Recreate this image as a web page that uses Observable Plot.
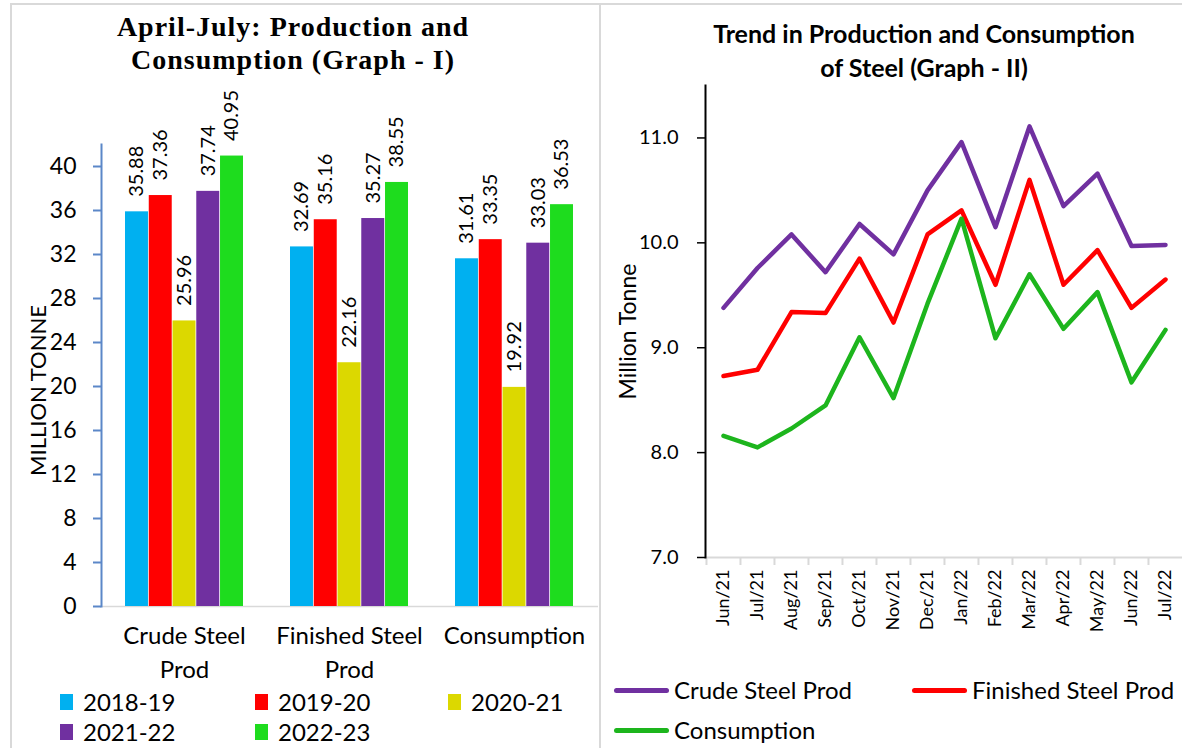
<!DOCTYPE html>
<html>
<head>
<meta charset="utf-8">
<script src="https://cdn.jsdelivr.net/npm/d3@7"></script>
<script src="https://cdn.jsdelivr.net/npm/@observablehq/plot@0.6"></script>
<style>
  html, body { margin: 0; padding: 0; background: #fff; }
  #root { position: relative; width: 1182px; height: 748px; overflow: hidden; background: #fff; font-family: Lato, "Open Sans", sans-serif; color: #000; }
  .abs { position: absolute; }
  .title1 { font-family: "Liberation Serif", serif; font-weight: bold; font-size: 28px; letter-spacing: 1px; line-height: 33px; text-align: center; }
  .title2 { font-family: Lato, sans-serif; font-weight: bold; font-size: 25px; line-height: 34px; text-align: center; }
  .leg { font-size: 24px; line-height: 28px; white-space: nowrap; display: flex; align-items: center; }
  .sq { display: inline-block; width: 13px; height: 16px; margin-right: 10px; }
  .ln { display: inline-block; width: 55px; height: 5px; border-radius: 3px; margin-right: 5px; }
</style>
</head>
<body>
<div id="root">
  <div class="abs" style="left:10px; top:3px; width:587px; height:760px; border-left:2px solid #d9d9d9; border-top:2px solid #d9d9d9; border-right:2px solid #d9d9d9;"></div>
  <div class="abs" style="left:597px; top:3px; width:600px; height:2px; background:#d9d9d9;"></div>
  <div id="left" class="abs" style="left:0; top:0;"></div>
  <div id="right" class="abs" style="left:600px; top:0;"></div>
  <div class="abs title1" style="left:38px; top:10px; width:510px;">April-July: Production and<br>Consumption (Graph - I)</div>
  <div class="abs title2" style="left:664px; top:16px; width:520px;">Trend in Production and Consumption<br>of Steel (Graph - II)</div>
  <div id="legL"></div>
  <div id="legR"></div>
</div>
<script>
// ---- Graph I data ----
const categories = ["Crude Steel Prod", "Finished Steel Prod", "Consumption"];
const categoryLabels = ["Crude Steel\nProd", "Finished Steel\nProd", "Consumption"];
const years = ["2018-19", "2019-20", "2020-21", "2021-22", "2022-23"];
const crudeSteelProd = [35.88, 37.36, 25.96, 37.74, 40.95];
const finishedSteelProd = [32.69, 35.16, 22.16, 35.27, 38.55];
const consumption = [31.61, 33.35, 19.92, 33.03, 36.53];
const yearColors = ["#00b0f0", "#ff0000", "#dcd800", "#7030a0", "#1edc1e"];
const yTicksI = [0, 4, 8, 12, 16, 20, 24, 28, 32, 36, 40];

// ---- Graph II data ----
const months = ["Jun/21", "Jul/21", "Aug/21", "Sep/21", "Oct/21", "Nov/21", "Dec/21", "Jan/22", "Feb/22", "Mar/22", "Apr/22", "May/22", "Jun/22", "Jul/22"];
const crudeTrend = [9.38, 9.76, 10.08, 9.72, 10.18, 9.89, 10.50, 10.96, 10.15, 11.11, 10.35, 10.66, 9.97, 9.98];
const finishedTrend = [8.73, 8.79, 9.34, 9.33, 9.85, 9.24, 10.08, 10.31, 9.60, 10.60, 9.60, 9.93, 9.38, 9.65];
const consumptionTrend = [8.16, 8.05, 8.23, 8.45, 9.10, 8.52, 9.42, 10.23, 9.09, 9.70, 9.18, 9.53, 8.67, 9.17];
const seriesNames = ["Crude Steel Prod", "Finished Steel Prod", "Consumption"];
const seriesColors = ["#7030a0", "#ff0000", "#1db51d"];
const yTicksII = [7, 8, 9, 10, 11];

// ---- Build tables ----
const barData = [];
[crudeSteelProd, finishedSteelProd, consumption].forEach((vals, ci) => {
  vals.forEach((v, yi) => barData.push({category: categories[ci], year: years[yi], yi, value: v}));
});
const lineData = [];
[crudeTrend, finishedTrend, consumptionTrend].forEach((vals, si) => {
  vals.forEach((v, mi) => lineData.push({series: seriesNames[si], month: months[mi], value: v}));
});

// ---- Graph I (grouped bars) ----
const W1 = 600, H1 = 690, ml1 = 101, mr1 = 2, mt1 = 144, mb1 = 84;
const pIn = 0.283, pOut = 0.1415;
const step1 = (W1 - ml1 - mr1) / (categories.length - pIn + 2 * pOut);
const bw1 = step1 * (1 - pIn);
const barW = bw1 / years.length;
const axisBlue = "#5b87c8";

const barMarks = years.map((yr, i) => Plot.barY(barData.filter(d => d.year === yr), {
  x: "category", y: "value", fill: yearColors[i],
  insetLeft: i * barW, insetRight: (years.length - 1 - i) * barW
}));
const labelMarks = years.map((yr, i) => Plot.text(barData.filter(d => d.year === yr), {
  x: "category", y: "value", text: d => d.value.toFixed(2),
  rotate: -90, textAnchor: "start", dx: (i - (years.length - 1) / 2) * barW, dy: -15,
  fontSize: 20, fill: "#000"
}));

const chart1 = Plot.plot({
  width: W1, height: H1,
  marginLeft: ml1, marginRight: mr1, marginTop: mt1, marginBottom: mb1,
  style: {fontFamily: "Lato, 'Open Sans', sans-serif", background: "transparent", overflow: "visible"},
  x: {domain: categories, paddingInner: pIn, paddingOuter: pOut},
  y: {domain: [0, 42]},
  marks: [
    Plot.ruleY([0], {stroke: "#d9d9d9", strokeWidth: 1.5}),
    ...barMarks,
    ...labelMarks,
    Plot.frame({anchor: "left", stroke: axisBlue, strokeWidth: 2}),
    Plot.axisY({ticks: yTicksI, tickSize: 8, tickPadding: 17, fontSize: 23, stroke: axisBlue, fill: "#000", strokeWidth: 2, label: null}),
    Plot.axisX({tickSize: 0, tickPadding: 14, fontSize: 24, lineHeight: 1.4, label: null,
      tickFormat: d => categoryLabels[categories.indexOf(d)]}),
    Plot.text(["MILLION TONNE"], {frameAnchor: "left", textAnchor: "middle", rotate: -90, dx: -63, dy: 15, fontSize: 22, fill: "#000"})
  ]
});
document.getElementById("left").appendChild(chart1);

// ---- Graph II (lines) ----
const W2 = 582, H2 = 640, ml2 = 105, mr2 = 0, mt2 = 85, mb2 = 83;
const bw2 = (W2 - ml2 - mr2) / months.length;
const chart2 = Plot.plot({
  width: W2, height: H2,
  marginLeft: ml2, marginRight: mr2, marginTop: mt2, marginBottom: mb2,
  style: {fontFamily: "Lato, 'Open Sans', sans-serif", background: "transparent", overflow: "visible"},
  x: {type: "point", domain: months, padding: 0.5},
  y: {domain: [7, 11.5]},
  color: {domain: seriesNames, range: seriesColors},
  marks: [
    Plot.ruleY([7], {stroke: "#d9d9d9", strokeWidth: 2}),
    Plot.axisX({tickSize: 8, dx: -bw2 / 2, stroke: "#d9d9d9", strokeWidth: 2, tickFormat: () => "", label: null}),
    Plot.axisX({tickSize: 0, tickPadding: 12, tickRotate: -90, fontSize: 18, label: null}),
    Plot.lineY(lineData, {x: "month", y: "value", z: "series", stroke: "series", strokeWidth: 4.5, strokeLinejoin: "round", strokeLinecap: "round"}),
    Plot.frame({anchor: "left", stroke: "#000", strokeWidth: 2}),
    Plot.axisY({ticks: yTicksII, tickFormat: d3.format(".1f"), tickSize: 8, tickPadding: 19, fontSize: 20, stroke: "#000", fill: "#000", strokeWidth: 1.5, label: null}),
    Plot.text(["Million Tonne"], {frameAnchor: "left", textAnchor: "middle", rotate: -90, dx: -77, dy: 10, fontSize: 23, fill: "#000"})
  ]
});
document.getElementById("right").appendChild(chart2);

// ---- Legends (HTML) ----
const legL = document.getElementById("legL");
const legPos = [[60, 688], [255, 688], [448, 688], [60, 718], [255, 718]];
years.forEach((yr, i) => {
  const el = document.createElement("div");
  el.className = "abs leg";
  el.style.left = legPos[i][0] + "px";
  el.style.top = legPos[i][1] + "px";
  el.innerHTML = `<span class="sq" style="background:${yearColors[i]}"></span>${yr}`;
  legL.appendChild(el);
});
const legR = document.getElementById("legR");
const legRPos = [[614, 676], [912, 676], [614, 716]];
seriesNames.forEach((s, i) => {
  const el = document.createElement("div");
  el.className = "abs leg";
  el.style.left = legRPos[i][0] + "px";
  el.style.top = legRPos[i][1] + "px";
  el.innerHTML = `<span class="ln" style="background:${seriesColors[i]}"></span>${s}`;
  legR.appendChild(el);
});
</script>
</body>
</html>
